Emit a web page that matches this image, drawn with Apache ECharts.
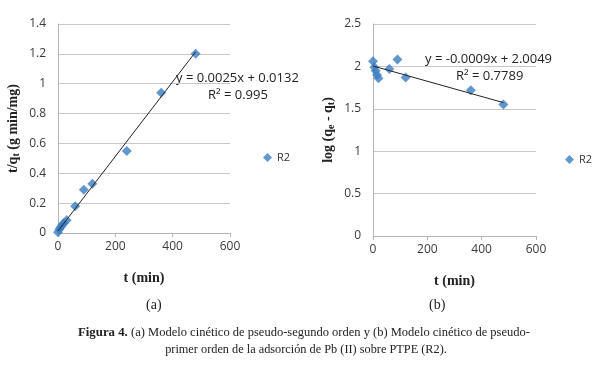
<!DOCTYPE html>
<html><head><meta charset="utf-8">
<script src="https://cdn.jsdelivr.net/npm/echarts@6/dist/echarts.min.js"></script>
<style>html,body{margin:0;padding:0;background:#fff}#c{width:612px;height:367px}</style>
</head><body><div id="c"></div>
<script>
// Chart (a): pseudo-second order
const tA = [0, 5, 10, 15, 20, 30, 60, 90, 120, 240, 360, 480];
const yA = [0.005, 0.025, 0.04, 0.055, 0.065, 0.085, 0.18, 0.29, 0.33, 0.55, 0.94, 1.2];
const fitA = {m: 0.0025, b: 0.0132, x0: 0, x1: 480};
// Chart (b): pseudo-first order
const tB = [0, 5, 10, 15, 20, 60, 90, 120, 360, 480];
const yB = [2.06, 1.99, 1.95, 1.90, 1.86, 1.97, 2.08, 1.87, 1.72, 1.55];
const fitB = {m: -0.0009, b: 2.0049, x0: 0, x1: 480};
const xTicks = [0, 200, 400, 600];
const yTicksA = [0, 0.2, 0.4, 0.6, 0.8, 1, 1.2, 1.4];
const yTicksB = [0, 0.5, 1, 1.5, 2, 2.5];

const blue = '#3b7dc0';
const tickFont = {fontFamily: 'Open Sans', fontSize: 12, color: '#3a3a3a'};
const titleFont = {fontFamily: 'Liberation Serif', fontWeight: 'bold', fontSize: 14, color: '#222'};

function xAxis(gi) {
  return {
    gridIndex: gi, type: 'value', min: xTicks[0], max: xTicks[xTicks.length - 1], interval: 200,
    name: 't (min)', nameLocation: 'middle', nameGap: 38, nameTextStyle: titleFont,
    axisLine: {lineStyle: {color: '#b5b5b5'}}, axisTick: {show: true, lineStyle: {color: '#b5b5b5'}, length: 4},
    splitLine: {show: false}, axisLabel: Object.assign({margin: 8}, tickFont)
  };
}
function yAxis(gi, ticks, name, gap) {
  return {
    gridIndex: gi, type: 'value', min: ticks[0], max: ticks[ticks.length - 1], interval: ticks[1] - ticks[0],
    name: name, nameLocation: 'middle', nameRotate: 90, nameGap: gap,
    nameTextStyle: {rich: {
      a: titleFont,
      s: Object.assign({}, titleFont, {fontSize: 10, padding: [0, 0, -7, 0]})
    }},
    axisLine: {show: true, lineStyle: {color: '#b5b5b5'}}, axisTick: {show: false},
    splitLine: {show: true, lineStyle: {color: '#c8c8c8'}},
    axisLabel: Object.assign({margin: 12, formatter: v => String(v)}, tickFont)
  };
}
function pts(xs, ys) { return xs.map((x, i) => [x, ys[i]]); }
function line(f) { return [[f.x0, f.m * f.x0 + f.b], [f.x1, f.m * f.x1 + f.b]]; }

const chart = echarts.init(document.getElementById('c'), null, {renderer: 'canvas'});
chart.setOption({
  animation: false,
  grid: [
    {left: 58, width: 172, top: 24, height: 209},
    {left: 373, width: 163, top: 24, height: 212}
  ],
  xAxis: [xAxis(0), xAxis(1)],
  yAxis: [
    yAxis(0, yTicksA, '{a|t/q}{s|t}{a| (g min/mg)}', 38),
    yAxis(1, yTicksB, '{a|log (q}{s|e}{a| - q}{s|t}{a|)}', 38)
  ],
  legend: [
    {data: ['R2'], left: 258, top: 147, itemWidth: 9, itemHeight: 9, itemGap: 4,
     textStyle: {fontFamily: 'Open Sans', fontSize: 11, color: '#333'}, icon: 'diamond'},
    {data: ['R2b'], left: 560, top: 149, itemWidth: 9, itemHeight: 9, itemGap: 4,
     formatter: () => 'R2',
     textStyle: {fontFamily: 'Open Sans', fontSize: 11, color: '#333'}, icon: 'diamond'}
  ],
  series: [
    {name: 'fitA', type: 'line', xAxisIndex: 0, yAxisIndex: 0, data: line(fitA), symbol: 'none',
     lineStyle: {color: '#222', width: 1}, z: 3},
    {name: 'R2', type: 'scatter', xAxisIndex: 0, yAxisIndex: 0, data: pts(tA, yA), symbol: 'diamond',
     symbolSize: 10, itemStyle: {color: blue}, z: 2},
    {name: 'fitB', type: 'line', xAxisIndex: 1, yAxisIndex: 1, data: line(fitB), symbol: 'none',
     lineStyle: {color: '#222', width: 1}, z: 3},
    {name: 'R2b', type: 'scatter', xAxisIndex: 1, yAxisIndex: 1, data: pts(tB, yB), symbol: 'diamond',
     symbolSize: 10, itemStyle: {color: blue}, z: 2}
  ],
  graphic: [
    {type: 'text', left: 176, top: 72, style: {text: 'y = 0.0025x + 0.0132', font: '13px "Open Sans"', fill: '#222'}},
    {type: 'text', left: 208, top: 89, style: {text: 'R² = 0.995', font: '13px "Open Sans"', fill: '#222'}},
    {type: 'text', left: 425, top: 53, style: {text: 'y = -0.0009x + 2.0049', font: '13px "Open Sans"', fill: '#222'}},
    {type: 'text', left: 456, top: 70, style: {text: 'R² = 0.7789', font: '13px "Open Sans"', fill: '#222'}},
    {type: 'text', left: 146, top: 298, style: {text: '(a)', font: '14px "Liberation Serif"', fill: '#222'}},
    {type: 'text', left: 429, top: 298, style: {text: '(b)', font: '14px "Liberation Serif"', fill: '#222'}},
    {type: 'text', left: 78, top: 326, style: {
      text: '{b|Figura 4.} {n|(a) Modelo cinético de pseudo-segundo orden y (b) Modelo cinético de pseudo-}',
      rich: {b: {font: 'bold 12.8px "Liberation Serif"', fill: '#222'}, n: {font: '12.5px "Liberation Serif"', fill: '#222'}}
    }},
    {type: 'text', left: 'center', top: 344, style: {
      text: 'primer orden de la adsorción de Pb (II) sobre PTPE (R2).', font: '12.3px "Liberation Serif"', fill: '#222'
    }}
  ]
});
</script></body></html>
